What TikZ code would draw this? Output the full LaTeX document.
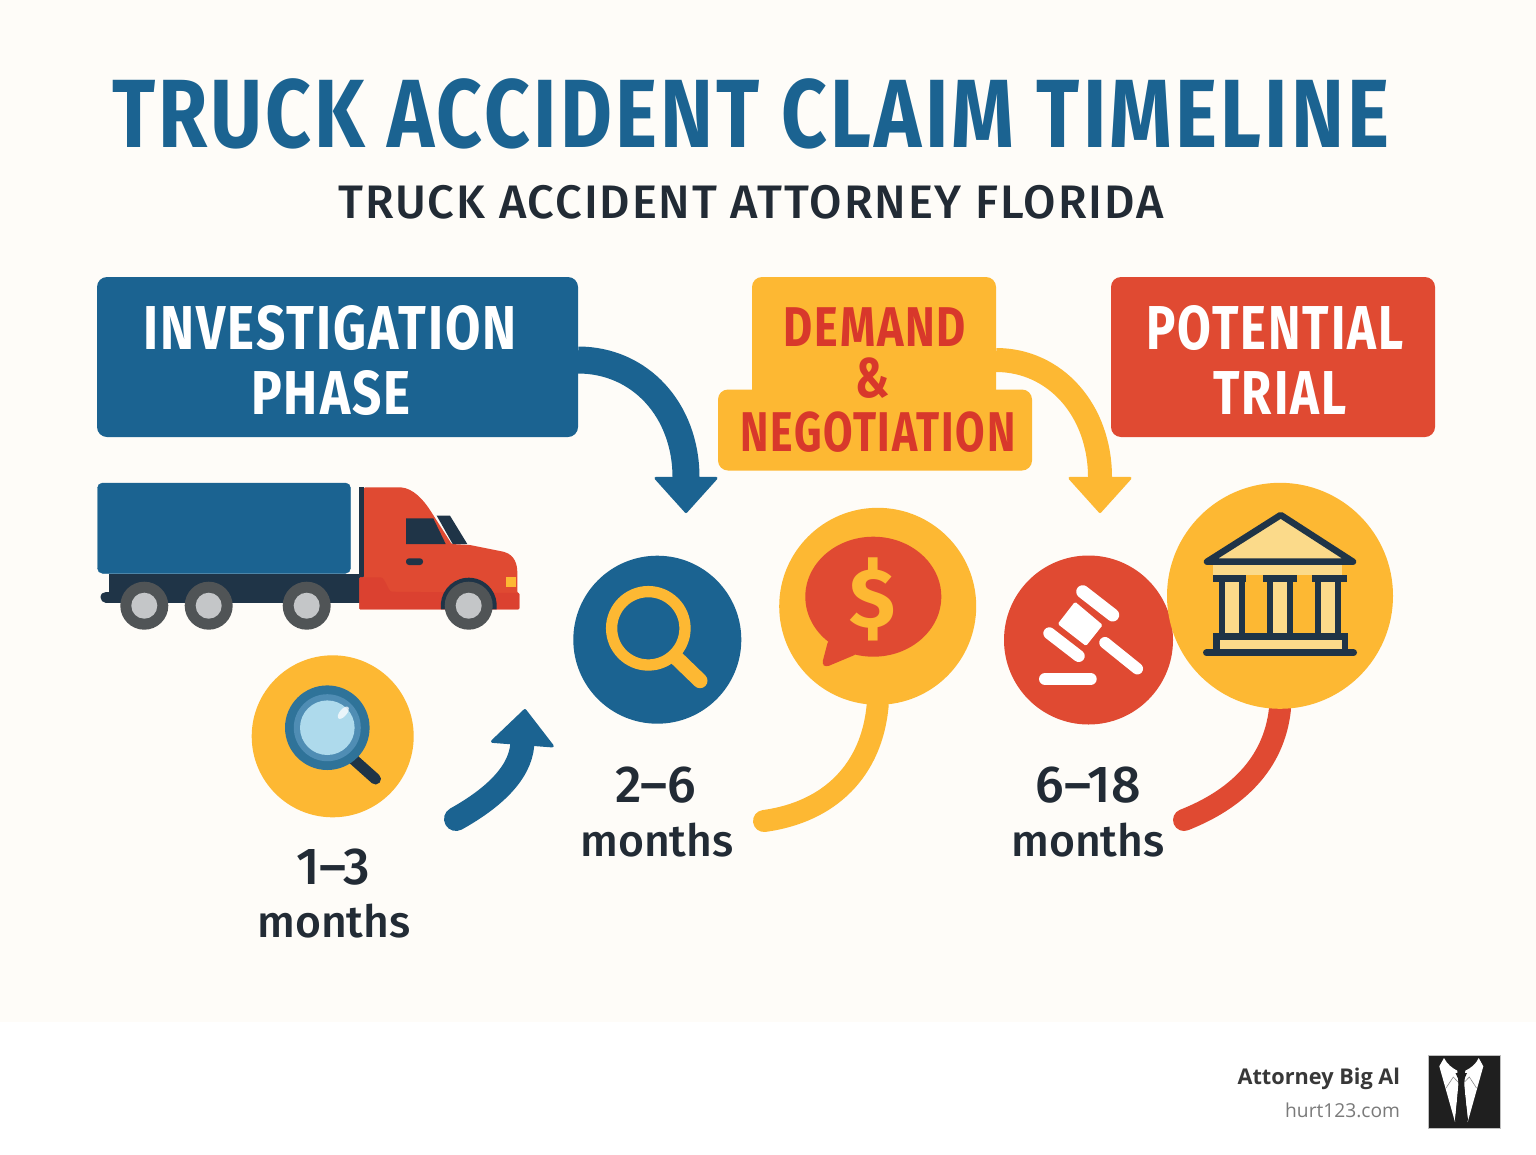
\documentclass[tikz,border=0pt]{standalone}
\usepackage{fontspec}
\usepackage{xcolor}
\setmainfont{Fira Sans}
\newfontfamily\mediumfont[UprightFont=* Medium]{Fira Sans}
\newfontfamily\spacedfont[LetterSpace=4]{Fira Sans}
\newfontfamily\subfont[UprightFont=* Medium,LetterSpace=4]{Fira Sans}
\newfontfamily\robotolike{Open Sans}
\usetikzlibrary{arrows.meta}
\definecolor{pagecream}{HTML}{FEFCF8}
\definecolor{claimblue}{HTML}{1B6391}
\definecolor{claimamber}{HTML}{FDB833}
\definecolor{claimred}{HTML}{E04A32}
\definecolor{demandred}{HTML}{D8382B}
\definecolor{inkdark}{HTML}{222B35}
\definecolor{truckdark}{HTML}{1F3447}
\definecolor{cabshade}{HTML}{DB4130}
\definecolor{tyregrey}{HTML}{505456}
\definecolor{hubgrey}{HTML}{C4C6C8}
\definecolor{lensring}{HTML}{2F7399}
\definecolor{lensmid}{HTML}{4F8DB4}
\definecolor{lensglass}{HTML}{AEDAEC}
\definecolor{courtcream}{HTML}{FBDA8A}
\pgfdeclarelayer{back}
\pgfsetlayers{back,main}
\begin{document}
\begin{tikzpicture}[x=1pt,y=1pt]
      \tikzstyle{every node}=[inner sep=0pt,outer sep=0pt]
      \tikzstyle{titletext}=[font=\spacedfont\bfseries\fontsize{97}{97}\selectfont,text=claimblue,xscale=.823]
      \tikzstyle{subtext}=[font=\subfont\fontsize{47}{47}\selectfont,text=inkdark]
      \tikzstyle{boxtext}=[font=\spacedfont\bfseries\fontsize{62}{62}\selectfont,xscale=.827]
      \tikzstyle{demandtext}=[font=\spacedfont\bfseries\fontsize{56}{56}\selectfont,text=demandred,xscale=.8]
      \tikzstyle{spantext}=[font=\mediumfont\fontsize{52}{52}\selectfont,text=inkdark]
      \tikzstyle{monthtext}=[font=\mediumfont\fontsize{44.5}{44.5}\selectfont,text=inkdark]
      \tikzstyle{panel}=[rectangle,rounded corners=10pt]
      \tikzstyle{disc}=[circle]
      \tikzstyle{bigarrow}=[line width=27pt,-{Triangle[width=66pt,length=37pt,round,line width=3pt]}]
      \tikzstyle{tail}=[line width=22pt,line cap=round]
      \useasboundingbox (0,0) rectangle (1536,-1154);
      \begin{pgfonlayer}{back}
      \fill [white] (0,0) rectangle (1536,-1154);
      \fill [pagecream] (0,0) rectangle (1536,-1022);
      \end{pgfonlayer}
      \node [titletext] (claimtitle) at (751,-114) {TRUCK ACCIDENT CLAIM TIMELINE};
      \node [subtext] (claimsub) at (751,-202) {TRUCK ACCIDENT ATTORNEY FLORIDA};
      \node [panel,fill=claimblue,minimum width=481pt,minimum height=160pt] (investigation) at (337.5,-357) {};
      \node [boxtext,text=white] (investigationa) at (330,-328) {INVESTIGATION};
      \node [boxtext,text=white] (investigationb) at (331,-393) {PHASE};
      \node [panel,fill=claimamber,minimum width=244pt,minimum height=130pt] (demandtop) at (874,-342) {};
      \node [panel,fill=claimamber,minimum width=314pt,minimum height=81pt] (demandlow) at (875,-430) {};
      \node [demandtext] (demanda) at (875,-327) {DEMAND};
      \node [demandtext] (demandb) at (873,-378) {\&};
      \node [demandtext,xscale=.954] (demandc) at (878,-432) {NEGOTIATION};
      \node [panel,fill=claimred,minimum width=324pt,minimum height=160pt] (trial) at (1273,-357) {};
      \node [boxtext,text=white,xscale=.955] (triala) at (1275,-328) {POTENTIAL};
      \node [boxtext,text=white,xscale=.955] (trialb) at (1280,-393) {TRIAL};
      \coordinate (bluehead) at (686,-513);
      \coordinate (amberhead) at (1100,-513);
      \coordinate (smallstart) at (456,-819);
      \coordinate (smallhead) at (525,-709);
      \coordinate (dealend) at (764,-821);
      \coordinate (trialend) at (1184,-820);
      \draw [claimblue,bigarrow] (investigation.east) ++(0,-3) .. controls (640,-360) and (686,-410) .. (bluehead);
      \draw [claimamber,bigarrow,line width=24pt] (demandtop.east) ++(0,-18) .. controls (1055,-360) and (1100,-410) .. (amberhead);
      \draw [claimblue,bigarrow,line width=24pt,line cap=round] (smallstart) .. controls (490,-800) and (520,-775) .. (smallhead);
      % truck
      \fill [truckdark] (109,-574) rectangle (363,-595);
      \draw [truckdark,line width=11pt,line cap=round] (106,-597) -- (362,-597);
      \fill [truckdark] (358.7,-486.7) rectangle (364,-578);
      \draw [claimblue,fill=claimblue,rounded corners=5pt] (97.5,-483) rectangle (350.5,-573.3);
      \fill [claimred,rounded corners=1pt] (364,-487.3) -- (400,-487.3) .. controls (413.3,-488.3) and (423.3,-500) .. (430,-510) -- (451.7,-544) -- (470,-545) -- (503.3,-551.7) .. controls (515,-555) and (517.3,-565) .. (517.3,-573.3) -- (517.3,-592.7) -- (519.3,-593.3) -- (519.3,-609.3) -- (359.3,-609.3) -- (359.3,-577.3) -- (364,-577.3) -- cycle;
      \fill [cabshade,rounded corners=1pt] (359.3,-577.3) -- (380,-577.3) .. controls (385,-578) and (388,-590) .. (391.7,-591.7) -- (519.3,-593) -- (519.3,-609.3) -- (359.3,-609.3) -- cycle;
      \fill [truckdark] (406,-518.3) -- (433.3,-518.3) -- (445.7,-544) -- (406,-544) -- cycle;
      \fill [truckdark] (436.7,-515.7) -- (450,-515.7) -- (467.3,-544) -- (452.7,-544) -- cycle;
      \fill [truckdark,rounded corners=3pt] (406,-558.3) rectangle (423,-565);
      \fill [claimamber] (506,-577) rectangle (516,-587);
      \fill [truckdark] (441,-609.3) arc (187.4:-7.4:28);
      \fill [tyregrey] (144.3,-605.7) circle (24);
      \fill [hubgrey] (144.3,-605.7) circle (13);
      \fill [tyregrey] (208.7,-605.7) circle (24);
      \fill [hubgrey] (208.7,-605.7) circle (13);
      \fill [tyregrey] (306.7,-605.7) circle (24);
      \fill [hubgrey] (306.7,-605.7) circle (13);
      \fill [tyregrey] (468.7,-605.7) circle (24);
      \fill [hubgrey] (468.7,-605.7) circle (13);
      % first span
      \node [disc,fill=claimamber,minimum size=162pt] (scandisc) at (332.7,-736.3) {};
      \draw [truckdark,line width=11pt,line cap=round] (352,-758) -- (375.5,-779);
      \fill [lensring] (327.3,-727.7) circle (42.3);
      \fill [lensmid] (327.3,-727.7) circle (33.5);
      \fill [lensglass] (327.3,-727.7) circle (27.3);
      \fill [white,opacity=.75,rotate around={-40:(343.3,-712.7)}] (343.3,-712.7) ellipse (3.5 and 7.5);
      \node [spantext] (spana) at (333,-867) {1–3};
      \node [monthtext] (monthsa) at (334,-921) {months};
      % second span
      \node [disc,fill=claimblue,minimum size=168pt] (searchdisc) at (657.3,-639.7) {};
      \draw [claimamber,line width=11.3pt] (648.3,-628.3) circle (36.7);
      \draw [claimamber,line width=15pt,line cap=round] (675,-656.5) -- (700,-680.7);
      \node [spantext] (spanb) at (656,-785) {2–6};
      \node [monthtext] (monthsb) at (657,-840) {months};
      % demand
      \node [disc,fill=claimamber,minimum size=197pt] (dealdisc) at (877.7,-606.3) {};
      \fill [claimred] (873.3,-596.7) ellipse (68 and 60);
      \fill [claimred,rounded corners=3pt] (828.3,-640) -- (822,-664) -- (826,-667) -- (857,-654) -- cycle;
      \node [font=\bfseries\fontsize{84}{84}\selectfont,text=claimamber] (dollar) at (873,-599) {\$};
      \begin{pgfonlayer}{back}
      \draw [claimamber,tail] (dealdisc.south) .. controls (872,-770) and (830,-812) .. (dealend);
      \end{pgfonlayer}
      % gavel
      \node [disc,fill=claimred,minimum size=169pt] (gaveldisc) at (1088.5,-640) {};
      \fill [white,rounded corners=1.5pt] (1075,-601.7) -- (1102.7,-625) -- (1086,-646) -- (1057.7,-624) -- cycle;
      \draw [white,line width=13pt,line cap=round] (1082.7,-591.7) -- (1112.7,-615);
      \draw [white,line width=12pt,line cap=round] (1049.3,-633.3) -- (1078.7,-656);
      \draw [white,line width=11.5pt,line cap=round] (1105,-642.7) -- (1137.3,-668.7);
      \draw [white,line width=12pt,line cap=round] (1045,-679) -- (1090.7,-679);
      \node [spantext] (spanc) at (1088,-785) {6–18};
      \node [monthtext] (monthsc) at (1088,-840) {months};
      % court
      \node [disc,fill=claimamber,minimum size=226pt] (courtdisc) at (1280,-595.8) {};
      \fill [courtcream] (1213.3,-565) rectangle (1341.7,-575);
      \draw [truckdark,fill=courtcream,line width=6.5pt,line join=round] (1280.7,-515) -- (1207,-561.7) -- (1353,-561.7) -- cycle;
      \draw [truckdark,fill=courtcream,line width=6pt] (1221.7,-578) rectangle (1241.7,-636);
      \draw [truckdark,fill=courtcream,line width=6pt] (1270,-578) rectangle (1290,-636);
      \draw [truckdark,fill=courtcream,line width=6pt] (1318.3,-578) rectangle (1338.3,-636);
      \fill [truckdark] (1213.3,-575) rectangle (1246,-581.7);
      \fill [truckdark] (1263.3,-575) rectangle (1296.7,-581.7);
      \fill [truckdark] (1311.7,-575) rectangle (1346.7,-581.7);
      \fill [truckdark] (1213.3,-633.3) rectangle (1348.3,-652);
      \fill [courtcream] (1220,-640) rectangle (1341.7,-650);
      \draw [truckdark,line width=7pt,line cap=round] (1206.5,-652.7) -- (1353.5,-652.7);
      \begin{pgfonlayer}{back}
      \draw [claimred,tail] (courtdisc.south) .. controls (1274,-765) and (1235,-800) .. (trialend);
      \end{pgfonlayer}
      % footer
      \node [anchor=east,font=\robotolike\bfseries\fontsize{21.7}{21.7}\selectfont,text=black!78] (brandname) at (1400,-1079) {Attorney Big Al};
      \node [anchor=east,font=\robotolike\fontsize{19.2}{19.2}\selectfont,text=black!52] (brandsite) at (1400,-1110) {hurt123.com};
      \draw [black!25,fill=black!88,line width=1pt] (1428,-1055.5) rectangle (1500.5,-1128) node [midway] (brandlogo) {};
      \fill [white] (1444,-1058) .. controls (1447,-1064) and (1452,-1068) .. (1457.3,-1070.7) -- (1458.3,-1084.7) -- (1455,-1122) -- (1439.3,-1066.3) -- cycle;
      \fill [white] (1478.7,-1058) .. controls (1476,-1064) and (1471,-1068) .. (1465.3,-1070.7) -- (1464.3,-1084.7) -- (1467.7,-1122) -- (1483.3,-1066.3) -- cycle;
      \draw [black!45,line width=.6pt] (1446,-1088) -- (1453.3,-1077) -- (1458,-1082);
      \draw [black!45,line width=.6pt] (1476.5,-1088) -- (1469.3,-1077) -- (1464.5,-1082);
      \fill [black!88] (1455.5,-1073) -- (1467,-1073) -- (1463.3,-1081.3) -- (1468,-1120) -- (1461.3,-1126) -- (1455,-1120) -- (1459.3,-1081.3) -- cycle;
    \end{tikzpicture}
\end{document}
